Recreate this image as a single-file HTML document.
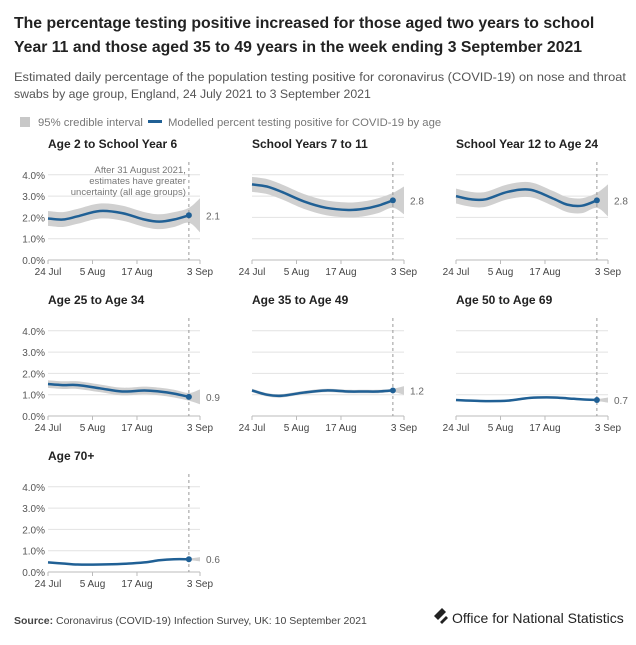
<!DOCTYPE html>
<html><head><meta charset="utf-8"><style>
body{margin:0;background:#fff;font-family:"Liberation Sans",sans-serif;}
</style></head><body>
<svg id="c" width="636" height="640" xmlns="http://www.w3.org/2000/svg" style="font-family:'Liberation Sans',sans-serif">
<text x="14" y="28" font-size="15.8" font-weight="bold" fill="#222">The percentage testing positive increased for those aged two years to school</text>
<text x="14" y="52" font-size="15.8" font-weight="bold" fill="#222">Year 11 and those aged 35 to 49 years in the week ending 3 September 2021</text>
<text x="14" y="81" font-size="12.3" fill="#555" textLength="612" lengthAdjust="spacingAndGlyphs">Estimated daily percentage of the population testing positive for coronavirus (COVID-19) on nose and throat</text>
<text x="14" y="98" font-size="12.3" fill="#555">swabs by age group, England, 24 July 2021 to 3 September 2021</text>
<g>
<rect x="20" y="117" width="10" height="10" fill="#c8c8c8"/>
<text x="38" y="126" font-size="11.3" fill="#777">95% credible interval</text>
<rect x="148" y="120" width="14" height="3" fill="#206095"/>
<text x="168" y="126" font-size="11.3" fill="#777">Modelled percent testing positive for COVID-19 by age</text>
</g>
<text x="14" y="624" font-size="10.5" fill="#444"><tspan font-weight="bold">Source:</tspan> Coronavirus (COVID-19) Infection Survey, UK: 10 September 2021</text>
<g>
<path d="M434 616 L442 608 L446 612 L438 620 Z" fill="#222"/>
<path d="M440 622 L446 616 L448 618 L442 624 Z" fill="#222"/>
<text x="452" y="623" font-size="14" fill="#222">Office for National Statistics</text>
</g>
</svg>
<script>
const titles=["Age 2 to School Year 6","School Years 7 to 11","School Year 12 to Age 24","Age 25 to Age 34","Age 35 to Age 49","Age 50 to Age 69","Age 70+"];
const days=[0,4,8,14,20,26,30,34,38];
const s1=[1.95,1.9,2.05,2.3,2.2,1.9,1.8,1.9,2.1];
const s2=[3.55,3.45,3.2,2.75,2.45,2.35,2.4,2.55,2.8];
const s3=[3.0,2.85,2.85,3.2,3.3,2.9,2.6,2.55,2.8];
const s4=[1.5,1.45,1.45,1.3,1.15,1.2,1.15,1.05,0.9];
const s5=[1.2,1.0,0.95,1.1,1.2,1.15,1.15,1.15,1.2];
const s6=[0.75,0.72,0.7,0.72,0.85,0.87,0.83,0.78,0.75];
const s7=[0.45,0.4,0.35,0.35,0.38,0.45,0.55,0.6,0.6];
const series=[s1,s2,s3,s4,s5,s6,s7];
const bandHalf=[0.35,0.35,0.35,0.18,0.08,0.05,0.04];
const endHalf=[0.8,0.65,0.75,0.35,0.2,0.12,0.1];
const labels=["2.1","2.8","2.8","0.9","1.2","0.7","0.6"];
const yTicks=[0,1,2,3,4];
const yTickLabels=["0.0%","1.0%","2.0%","3.0%","4.0%"];
const xTickDays=[0,12,24,41];
const xTickLabels=["24 Jul","5 Aug","17 Aug","3 Sep"];
const svg=document.getElementById('c');
const NS="http://www.w3.org/2000/svg";
function mk(t,a,p){const e=document.createElementNS(NS,t);for(const k in a)e.setAttribute(k,a[k]);(p||svg).appendChild(e);return e;}
function smooth(pts){let d="M"+pts[0][0]+","+pts[0][1];for(let i=0;i<pts.length-1;i++){const p0=pts[Math.max(0,i-1)],p1=pts[i],p2=pts[i+1],p3=pts[Math.min(pts.length-1,i+2)];d+=" C"+(p1[0]+(p2[0]-p0[0])/6)+","+(p1[1]+(p2[1]-p0[1])/6)+" "+(p2[0]-(p3[0]-p1[0])/6)+","+(p2[1]-(p3[1]-p1[1])/6)+" "+p2[0]+","+p2[1];}return d;}
titles.forEach((t,i)=>{
 const c=i%3,r=Math.floor(i/3);
 const x0=48+204*c,y0=260+156*r;
 const X=d=>x0+d*152/41, Y=v=>y0-v*21.3;
 const g=mk('g',{});
 
 
 const tt=mk('text',{x:x0,y:y0-112,'font-size':12,'font-weight':'bold',fill:'#222'},g);tt.textContent=t;
 
 
 yTicks.forEach((v,k)=>{
  const l=mk('line',{x1:x0,x2:x0+152,y1:Y(v),y2:Y(v),stroke:v===0?'#bbb':'#e2e2e2','stroke-width':1},g);
  
  
  if(c===0){const tx=mk('text',{x:x0-3,y:Y(v)+4,'font-size':10,fill:'#555','text-anchor':'end'},g);tx.textContent=yTickLabels[k];
   
   }
 });
 xTickDays.forEach((d,k)=>{
  mk('line',{x1:X(d),x2:X(d),y1:y0,y2:y0+4,stroke:'#bbb'},g);
  const tx=mk('text',{x:X(d),y:y0+15,'font-size':10,fill:'#444','text-anchor':'middle'},g);tx.textContent=xTickLabels[k];
  
  
 });
 const s=series[i];
 const up=s.map((v,k)=>[X(days[k]),Y(v+bandHalf[i])]);
 const lo=s.map((v,k)=>[X(days[k]),Y(v-bandHalf[i])]);
 const last=s[s.length-1];
 up.push([X(41),Y(last+endHalf[i])]);lo.push([X(41),Y(last-endHalf[i])]);
 const lor=lo.slice().reverse();
 let d=smooth(up)+" L"+lor[0][0]+","+lor[0][1]+smooth(lor).replace(/^M[^ ]+/,"")+" Z";
 const band=mk('path',{d:d,fill:'#d0d0d0'},g);
 
 
 const dl=mk('line',{x1:X(38),x2:X(38),y1:y0-98,y2:y0,stroke:'#999','stroke-dasharray':'3,3','stroke-width':1},g);
 
 
 const line=mk('path',{d:smooth(s.map((v,k)=>[X(days[k]),Y(v)])),fill:'none',stroke:'#206095','stroke-width':2.5},g);
 
 
 const pt=mk('circle',{cx:X(38),cy:Y(last),r:3,fill:'#206095'},g);
 
 
 const vl=mk('text',{x:x0+158,y:Y(last)+4,'font-size':10,fill:'#666'},g);vl.textContent=labels[i];
 
 
 if(i===0){
  ["After 31 August 2021,","estimates have greater","uncertainty (all age groups)"].forEach((tx,k)=>{
   const a=mk('text',{x:X(38)-3,y:y0-87+k*11,'font-size':9.5,fill:'#777','text-anchor':'end'},g);a.textContent=tx;
   
   
  });
 }
});
</script>
</body></html>
